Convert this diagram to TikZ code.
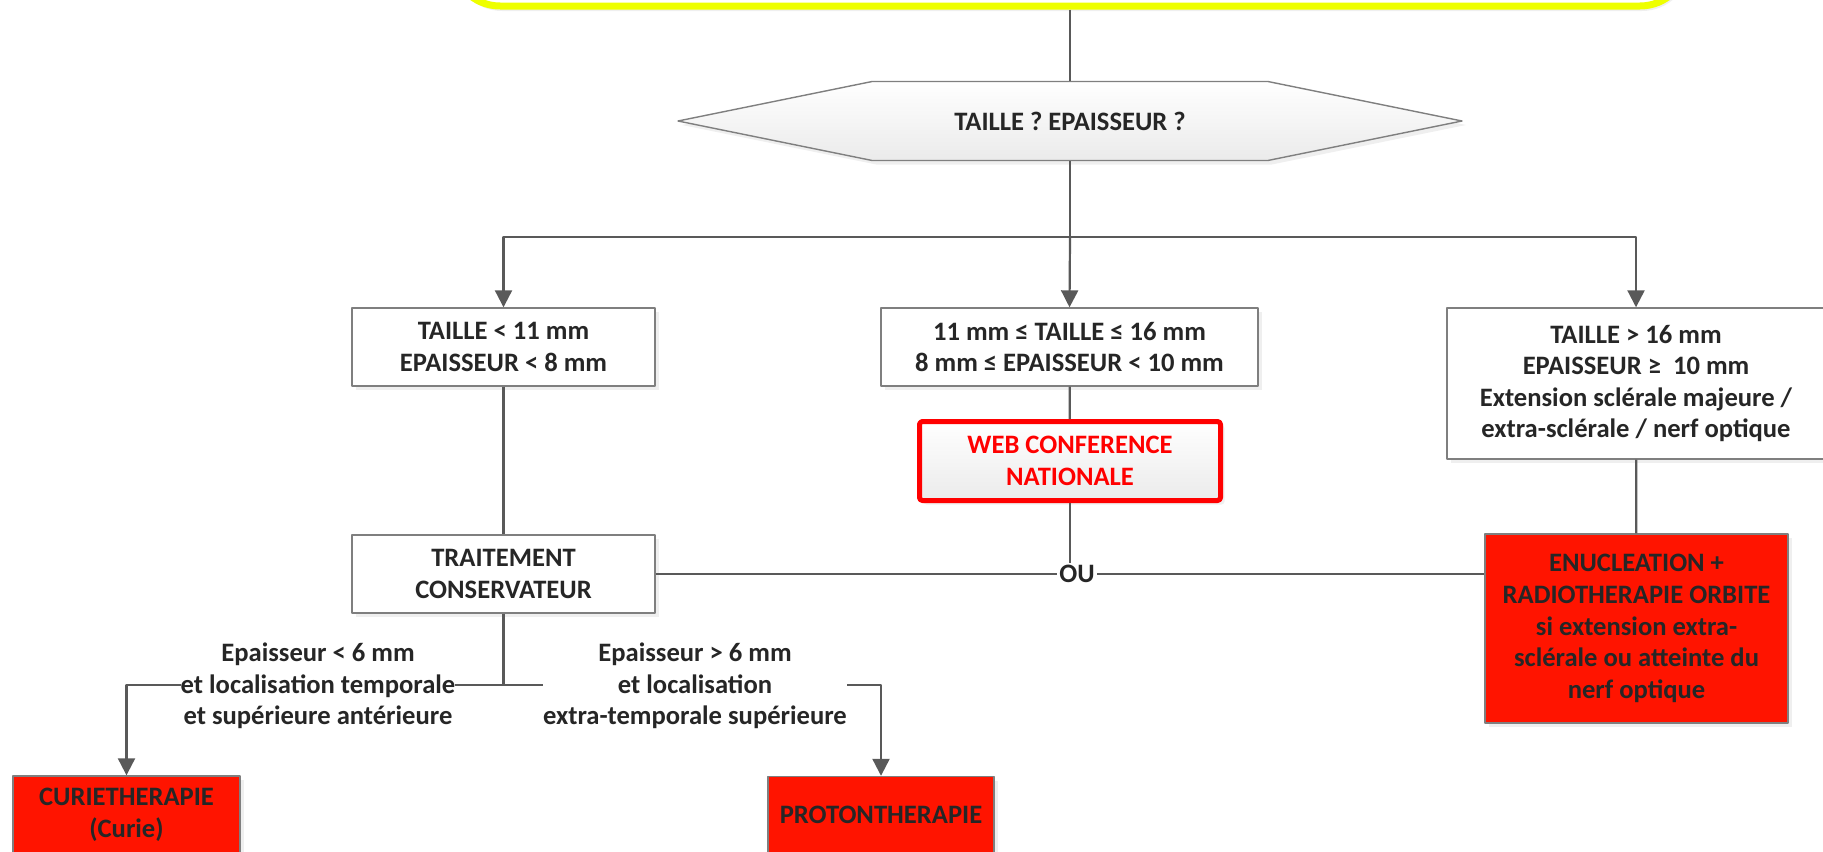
\documentclass[tikz,border=0pt]{standalone}
\usepackage{fontspec}
\setmainfont{Carlito}
\usepackage{tikz}
\usetikzlibrary{arrows.meta, shapes.symbols, shadows}
\usepackage{xcolor}
\definecolor{linegray}{HTML}{595959}
\definecolor{boxgray}{HTML}{7F7F7F}
\definecolor{txt}{HTML}{262626}
\definecolor{redfill}{HTML}{FF1400}
\definecolor{webred}{HTML}{FF0000}
\definecolor{yel}{HTML}{EEFF00}

\begin{document}
\begin{tikzpicture}[x=0.5pt, y=-0.5pt, font=\bfseries\fontsize{13.3}{15.8}\selectfont, line join=round,
    box/.style={draw=boxgray, line width=0.7pt, fill=white, text=txt, align=center, inner sep=0pt,
        drop shadow={shadow xshift=2pt, shadow yshift=-2pt, fill=black!12}},
    redbox/.style={box, fill=redfill},
    link/.style={draw=linegray, line width=1.1pt},
    arrow/.style={link, -{Triangle[width=8.5pt, length=8.5pt]}},
    note/.style={fill=white, text=txt, align=center, inner xsep=0pt, inner ysep=1pt}]

    % page is 1823 x 851 units, y grows downwards
    \useasboundingbox (0,0) rectangle (1823,851);

    % Top box (cut by the page) and question
    \node[draw=yel, line width=3.5pt, rounded corners=24pt, fill=white, minimum width=618pt, minimum height=44pt,
        drop shadow={shadow xshift=1pt, shadow yshift=-2.5pt, fill=black!12}] (top) at (1070,-38) {};
    \node[box, shape=signal, signal to=west and east, signal pointer angle=23, minimum width=392pt, minimum height=39.5pt,
        top color=white, bottom color=black!8] (hexa) at (1070,121) {TAILLE ? EPAISSEUR ?};

    % Three classes
    \node[box, minimum width=151.5pt, minimum height=39pt] (small) at (503.5,347) {TAILLE < 11 mm\\EPAISSEUR < 8 mm};
    \node[box, minimum width=188.5pt, minimum height=39pt] (medium) at (1069.5,347) {11 mm ≤ TAILLE ≤ 16 mm\\8 mm ≤ EPAISSEUR < 10 mm};
    \node[box, minimum width=189pt, minimum height=75.5pt] (large) at (1636,383.5)
        {TAILLE > 16 mm\\EPAISSEUR ≥~~10 mm\\Extension sclérale majeure /\\extra-sclérale / nerf optique};

    % Treatments
    \node[box, draw=webred, line width=2.5pt, rounded corners=1.5pt, top color=white, bottom color=black!8, text=webred,
        minimum width=150.5pt, minimum height=39.5pt] (web) at (1070,461) {WEB CONFERENCE\\NATIONALE};
    \node[box, minimum width=151.5pt, minimum height=39pt] (trait) at (503.5,574) {TRAITEMENT\\CONSERVATEUR};
    \node[redbox, minimum width=151.5pt, minimum height=94.5pt] (enuc) at (1636.5,628.5)
        {ENUCLEATION +\\RADIOTHERAPIE ORBITE\\si extension extra-\\sclérale ou atteinte du\\nerf optique};
    \node[redbox, minimum width=113.5pt, minimum height=38.5pt] (curie) at (126.5,814.5) {CURIETHERAPIE\\(Curie)};
    \node[redbox, minimum width=113pt, minimum height=38.5pt] (proton) at (881,815) {PROTONTHERAPIE};

    % Connectors
    \coordinate (fork) at (1070,237);
    \coordinate (split) at (503.5,685);
    \draw[draw=linegray, line width=0.6pt] (top.south) -- (hexa.north);
    \draw[link] (hexa.south) -- (fork);
    \draw[arrow] (fork) -| (small.north);
    \draw[arrow] (fork) -- (medium.north);
    \draw[arrow] (fork) -| (large.north);
    \draw[link] (small) -- (trait);
    \draw[link] (medium) -- (web);
    \draw[link] (large) -- (enuc);
    \draw[link] (trait.east) -- (trait.east -| enuc.west);
    \node[note, inner xsep=1pt] (ou) at (1077,574) {OU};
    \draw[link] (web.south) -- (web.south |- ou.north);
    \draw[link] (trait) -- (split);
    \draw[arrow] (split) -| (curie.north);
    \draw[arrow] (split) -| (proton.north);

    % Conditions on the lower branches
    \node[note] (thin) at (318,686) {Epaisseur < 6 mm\\et localisation temporale\\et supérieure antérieure};
    \node[note] (thick) at (695,686) {Epaisseur > 6 mm\\et localisation\\extra-temporale supérieure};

\end{tikzpicture}
\end{document}
